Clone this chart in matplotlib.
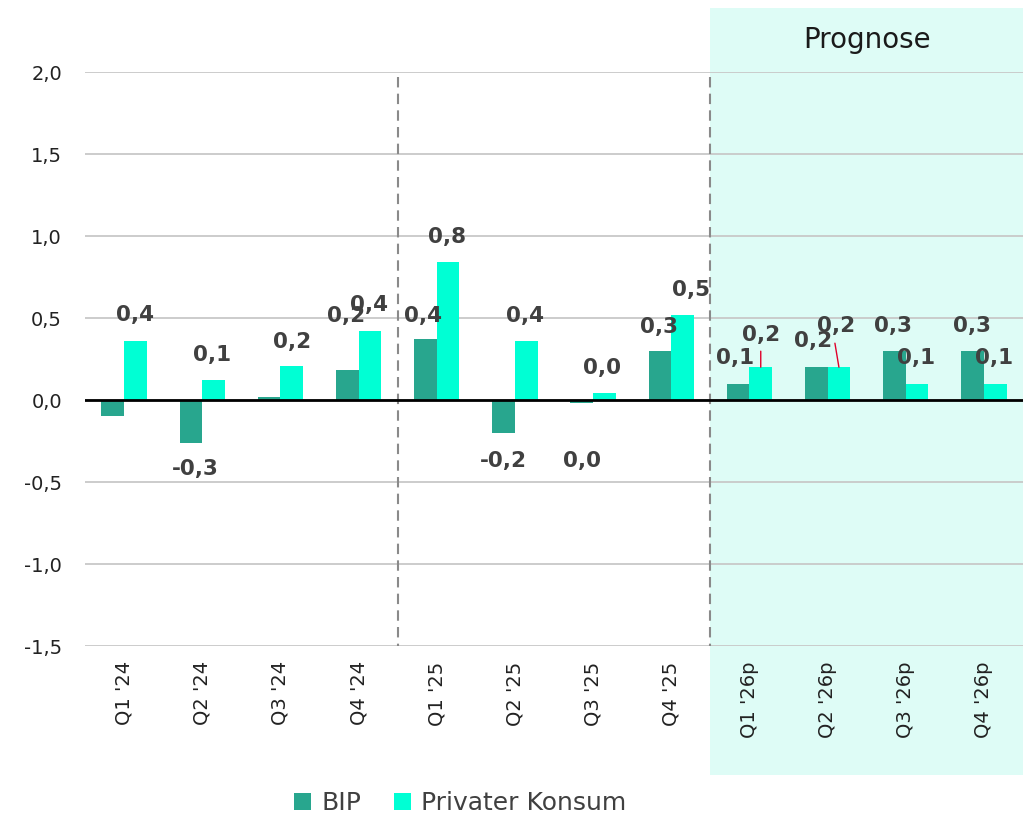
import matplotlib
matplotlib.use("Agg")
import matplotlib.pyplot as plt
from matplotlib.patches import Rectangle
import matplotlib.transforms as mtransforms
import numpy as np

categories = ["Q1 '24", "Q2 '24", "Q3 '24", "Q4 '24", "Q1 '25", "Q2 '25",
              "Q3 '25", "Q4 '25", "Q1 '26p", "Q2 '26p", "Q3 '26p", "Q4 '26p"]
bip = [-0.10, -0.26, 0.02, 0.18, 0.37, -0.20, -0.02, 0.30, 0.10, 0.20, 0.30, 0.30]
konsum = [0.36, 0.12, 0.21, 0.42, 0.84, 0.36, 0.04, 0.52, 0.20, 0.20, 0.10, 0.10]
series_names = ["BIP", "Privater Konsum"]
yticks = [-1.5, -1.0, -0.5, 0.0, 0.5, 1.0, 1.5, 2.0]

# which labels are shown, and pixel offsets of label centers from bar tips
bip_show = [False, True, False, True, True, True, True, True, True, True, True, True]
kon_show = [True] * 12
bip_off = [(0, 0), (4, -26), (0, 0), (-1, 54), (-2, 23), (0, -28), (0, -58), (-1, 24),
           (-3, 26), (-3, 26), (-1, 25), (-1, 25)]
kon_off = [(0, 26), (-2, 25), (0, 24), (-1, 26), (-1, 25), (-1, 25), (-2, 25), (8, 25),
           (0, 32), (-3, 41), (-1, 26), (-1, 26)]

plt.rcParams['font.family'] = ['DejaVu Sans']

c_bip = "#28A68E"
c_kon = "#00FFD4"
txt = "#404040"
PX = 0.72  # points per pixel at dpi 100

fig = plt.figure(figsize=(10.23, 8.15), dpi=100)
ax = fig.add_axes([85/1023, 169/815, (1023-85)/1023, 574/815])

x = np.arange(len(categories))
w = 0.29
ax.set_xlim(-0.5, len(categories) - 0.5)
ax.set_ylim(-1.5, 2.0)

# forecast band
trans = mtransforms.blended_transform_factory(ax.transData, ax.transAxes)
band = Rectangle((7.5, -0.2247), 4.6, 1.111 + 0.2247, transform=trans,
                 facecolor="#DEFCF6", edgecolor="none", clip_on=False, zorder=0)
ax.add_patch(band)
ax.text(9.5, 1.056, "Prognose", transform=trans, ha="center", va="center",
        fontsize=20, color="#1a1a1a")

for yv in yticks:
    ax.axhline(yv, color="#C8C8C8", lw=1.3, zorder=1)
ax.axhline(0, color="black", lw=2.0, zorder=4)

for xv in [3.5, 7.5]:
    ax.plot([xv, xv], [1.97, -1.5], color="#8a8a8a", lw=1.5, ls=(0, (5, 3)), zorder=2)

b1 = ax.bar(x - w/2, bip, w, color=c_bip, zorder=3, label=series_names[0])
b2 = ax.bar(x + w/2, konsum, w, color=c_kon, zorder=3, label=series_names[1])

def fmt(v):
    return f"{v:.1f}".replace(".", ",").replace("-0,0", "0,0")

for i in range(len(categories)):
    if bip_show[i]:
        ax.annotate(fmt(bip[i]), (x[i] - w/2, bip[i]),
                    xytext=(bip_off[i][0]*PX, bip_off[i][1]*PX),
                    textcoords="offset points", ha="center", va="center",
                    fontsize=15.5, fontweight="bold", color=txt, zorder=5)
    if kon_show[i]:
        ax.annotate(fmt(konsum[i]), (x[i] + w/2, konsum[i]),
                    xytext=(kon_off[i][0]*PX, kon_off[i][1]*PX),
                    textcoords="offset points", ha="center", va="center",
                    fontsize=15.5, fontweight="bold", color=txt, zorder=5)

# red leader lines for the two crowded forecast labels
ax.annotate("", (x[8] + w/2, konsum[8]), xytext=(0, 16*PX), textcoords="offset points",
            arrowprops=dict(arrowstyle="-", color="#E0002A", lw=1, shrinkA=0, shrinkB=0), zorder=5)
ax.annotate("", (x[9] + w/2, konsum[9]), xytext=(-4*PX, 24*PX), textcoords="offset points",
            arrowprops=dict(arrowstyle="-", color="#E0002A", lw=1, shrinkA=0, shrinkB=0), zorder=5)

ax.set_xticks(x)
ax.set_xticklabels(categories, rotation=90, fontsize=14, color="#222222")
ax.set_yticks(yticks)
ax.set_yticklabels([f"{v:.1f}".replace(".", ",") for v in yticks], fontsize=14, color="#222222")
ax.tick_params(axis="both", length=0)
ax.tick_params(axis="x", pad=11)
ax.tick_params(axis="y", pad=16.5)
for s in ax.spines.values():
    s.set_visible(False)
ax.patch.set_alpha(0)

leg = fig.legend(handles=[b1, b2], loc="center", bbox_to_anchor=(460/1023, 1 - 803/815),
                 ncol=2, frameon=False, fontsize=18, handlelength=0.7, handleheight=0.7,
                 columnspacing=1.3, handletextpad=0.4)
for t in leg.get_texts():
    t.set_color("#404040")

fig.savefig("out.png", dpi=100)
